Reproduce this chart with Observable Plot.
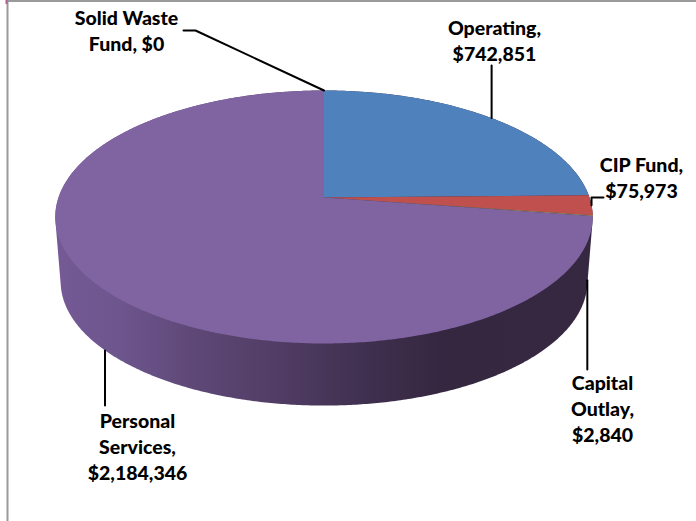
<!DOCTYPE html>
<html>
<head>
<meta charset="utf-8">
<style>
  html, body { margin: 0; padding: 0; background: #fff; }
  svg { display: block; }
</style>
<script src="https://cdn.jsdelivr.net/npm/d3@7"></script>
<script src="https://cdn.jsdelivr.net/npm/@observablehq/plot@0.6"></script>
</head>
<body>
<div id="chart"></div>
<script>
// Budget categories, in the clockwise order of the pie starting from twelve o'clock.
const categories = ["Operating", "CIP Fund", "Capital Outlay", "Personal Services", "Solid Waste Fund"];
const amounts = [742851, 75973, 2840, 2184346, 0];
const sliceColors = ["#4f81bd", "#c0504d", "#a3975a", "#8064a2", "#4bacc6"];

const labelLines = [
  ["Operating,", "$742,851"],
  ["CIP Fund,", "$75,973"],
  ["Capital", "Outlay,", "$2,840"],
  ["Personal", "Services,", "$2,184,346"],
  ["Solid Waste", "Fund, $0"]
];

// View of the tilted disc: a perspective projection of a unit circle.
const view = {cx: 323.5, cy: 197, rx: 265.5, ry: 123.5, k: 0.154, depth: 65, shrink: 0.98};
const fontSize = 19.5;
const lineHeight = 26;

// Projects a clockwise angle (radians from twelve o'clock) onto the top or base of the disc.
function project(angle, base = false) {
  const u = Math.sin(angle), v = Math.cos(angle);
  const w = 1 + view.k * v;
  const s = base ? view.shrink : 1;
  return {
    x: view.cx + s * view.rx * u / w,
    y: view.cy + (base ? view.depth : 0) - s * view.ry * v / w
  };
}

const total = d3.sum(amounts);
let running = 0;
const slices = categories.map((name, i) => {
  const start = running / total * 2 * Math.PI;
  running += amounts[i];
  return {name, color: sliceColors[i], start, end: running / total * 2 * Math.PI};
});
const midAngle = s => (s.start + s.end) / 2;

// Top faces as closed outlines running through the centre of the disc.
const faces = slices.filter(s => s.end > s.start).flatMap(s => {
  const n = Math.max(2, Math.ceil((s.end - s.start) / 0.01));
  const arc = d3.range(n + 1).map(i => project(s.start + (s.end - s.start) * i / n));
  return [{x: view.cx, y: view.cy}, ...arc].map(p => ({...p, name: s.name, color: s.color}));
});

// Silhouette of the whole solid; the top faces are painted over its upper part.
const rimAngles = d3.range(720).map(i => 2 * Math.PI * i / 720);
const wall = d3.polygonHull(
  rimAngles.flatMap(a => [project(a), project(a, true)]).map(p => [p.x, p.y])
).map(([x, y]) => ({x, y}));

// Shading of the wall, from the lit left side to the dark right side.
const wallStops = [
  {x: 55, color: "#755a96"},
  {x: 120, color: "#6d558d"},
  {x: 200, color: "#5d4775"},
  {x: 290, color: "#4f3b62"},
  {x: 370, color: "#3f2f4e"},
  {x: 440, color: "#352740"},
  {x: 592, color: "#352840"}
];
const wallGradient = () => {
  const defs = d3.create("svg:defs");
  const gradient = defs.append("linearGradient")
    .attr("id", "wall-shade")
    .attr("gradientUnits", "userSpaceOnUse")
    .attr("x1", 55).attr("x2", 592).attr("y1", 0).attr("y2", 0);
  for (const s of wallStops) {
    gradient.append("stop")
      .attr("offset", (s.x - 55) / (592 - 55))
      .attr("stop-color", s.color);
  }
  return defs.node();
};

// Leader lines: each begins on its slice and ends at its label.
const opAnchor = project(midAngle(slices[0]));
const cipAnchor = project(midAngle(slices[1]));
const capAnchor = project(midAngle(slices[2]), true);
const perAnchor = project(midAngle(slices[3]), true);
const solAnchor = project(slices[4].start);

const leaders = [
  [opAnchor, {x: opAnchor.x, y: 65}],
  [cipAnchor, {x: cipAnchor.x, y: 197}, {x: 603, y: 197}],
  [capAnchor, {x: capAnchor.x, y: 369}],
  [perAnchor, {x: perAnchor.x, y: 405}],
  [solAnchor, {x: 195, y: 30}, {x: 183, y: 30}]
].flatMap((pts, id) => pts.map(p => ({...p, id})));

// Label block centres, first line.
const labelPlacement = [
  {x: 494, y: 28},
  {x: 641, y: 165},
  {x: 602, y: 383},
  {x: 137, y: 421},
  {x: 126, y: 18}
];
const labels = labelLines.flatMap((lines, i) =>
  lines.map((text, j) => ({text, x: labelPlacement[i].x, y: labelPlacement[i].y + j * lineHeight}))
);

const chart = Plot.plot({
  width: 696,
  height: 521,
  margin: 0,
  x: {domain: [0, 696], range: [0, 696], axis: null},
  y: {domain: [0, 521], range: [0, 521], axis: null},
  marks: [
    wallGradient,
    // Chart area border
    Plot.ruleX([7], {y1: 0, y2: 521, stroke: "#9a9a9a", strokeWidth: 2}),
    Plot.ruleY([0.5], {x1: 7, x2: 696, stroke: "#9a9a9a", strokeWidth: 2}),
    Plot.ruleX([6], {y1: 0, y2: 4, stroke: "#a8648a", strokeWidth: 2}),
    Plot.line(wall, {x: "x", y: "y", fill: "url(#wall-shade)", stroke: null}),
    Plot.line(faces, {x: "x", y: "y", z: "name", fill: "color", stroke: null}),
    Plot.line(leaders, {x: "x", y: "y", z: "id", stroke: "#000", strokeWidth: 2}),
    Plot.text(labels, {
      x: "x", y: "y", text: "text",
      fontFamily: "Lato", fontWeight: 900, fontSize,
      fill: "#000", textAnchor: "middle", lineAnchor: "middle"
    })
  ]
});
document.getElementById("chart").append(chart);
</script>
</body>
</html>
